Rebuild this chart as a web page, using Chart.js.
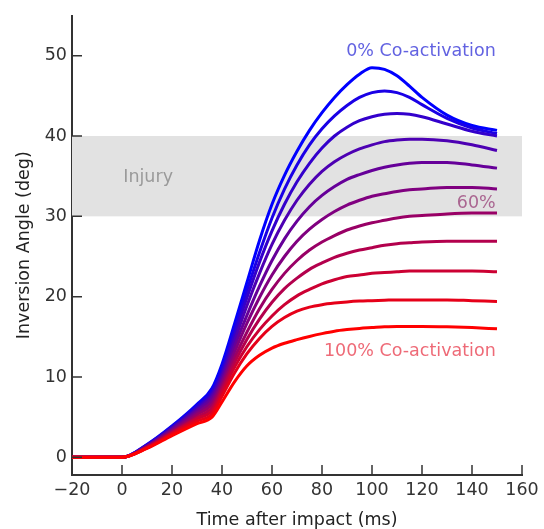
<!DOCTYPE html>
<html>
<head>
<meta charset="utf-8">
<script src="https://cdn.jsdelivr.net/npm/chart.js@4.4.1/dist/chart.umd.min.js"></script>
<style>
  html, body { margin: 0; padding: 0; background: #ffffff; }
  #wrap { width: 544px; height: 529px; position: relative; }
</style>
</head>
<body>
<div id="wrap"><canvas id="c" width="544" height="529"></canvas></div>
<script>
// ---- data ----
const timeMs = [-20, 0, 10, 20, 30, 36, 40, 45, 50, 55, 60, 65, 70, 75, 80, 85, 90, 95, 100, 105, 110, 115, 120, 130, 140, 150];

const coact0   = [0, 0, 1.6, 3.9, 6.6, 8.6, 11.6, 16.6, 21.8, 27.0, 31.5, 35.1, 38.1, 40.7, 42.9, 44.8, 46.4, 47.7, 48.5, 48.3, 47.5, 46.2, 44.8, 42.6, 41.3, 40.7];
const coact10  = [0, 0, 1.55, 3.8, 6.4, 8.3, 11.0, 15.9, 20.8, 25.5, 29.8, 33.4, 36.4, 38.9, 40.9, 42.5, 43.8, 44.8, 45.4, 45.6, 45.4, 44.8, 43.9, 42.2, 41.0, 40.3];
const coact20  = [0, 0, 1.5, 3.7, 6.2, 8.0, 10.5, 15.2, 19.9, 24.3, 28.2, 31.5, 34.3, 36.6, 38.5, 40.0, 41.1, 41.9, 42.4, 42.7, 42.8, 42.7, 42.4, 41.5, 40.6, 40.0];
const coact30  = [0, 0, 1.45, 3.6, 6.0, 7.7, 10.1, 14.5, 18.9, 22.9, 26.5, 29.5, 32.0, 34.0, 35.6, 36.8, 37.7, 38.4, 38.9, 39.3, 39.5, 39.6, 39.6, 39.4, 38.9, 38.2];
const coact40  = [0, 0, 1.4, 3.5, 5.8, 7.4, 9.7, 13.8, 17.7, 21.3, 24.5, 27.2, 29.4, 31.2, 32.6, 33.7, 34.6, 35.2, 35.7, 36.1, 36.4, 36.6, 36.7, 36.7, 36.4, 36.0];
const coact50  = [0, 0, 1.35, 3.35, 5.55, 7.0, 9.3, 13.1, 16.7, 19.9, 22.7, 25.0, 26.9, 28.4, 29.6, 30.6, 31.4, 32.0, 32.5, 32.8, 33.1, 33.3, 33.4, 33.6, 33.6, 33.4];
const coact60  = [0, 0, 1.3, 3.2, 5.3, 6.6, 8.9, 12.4, 15.6, 18.5, 20.9, 22.9, 24.5, 25.8, 26.8, 27.6, 28.3, 28.8, 29.2, 29.5, 29.8, 30.0, 30.1, 30.3, 30.4, 30.4];
const coact70  = [0, 0, 1.25, 3.1, 5.0, 6.2, 8.5, 11.8, 14.7, 17.2, 19.3, 21.0, 22.3, 23.4, 24.2, 24.9, 25.4, 25.8, 26.1, 26.4, 26.6, 26.7, 26.8, 26.9, 26.9, 26.9];
const coact80  = [0, 0, 1.2, 3.0, 4.8, 5.8, 8.1, 11.2, 13.8, 15.9, 17.6, 19.0, 20.1, 20.9, 21.6, 22.1, 22.5, 22.7, 22.9, 23.0, 23.1, 23.2, 23.2, 23.2, 23.2, 23.1];
const coact90  = [0, 0, 1.15, 2.85, 4.5, 5.4, 7.6, 10.5, 12.9, 14.8, 16.3, 17.4, 18.2, 18.7, 19.0, 19.2, 19.35, 19.45, 19.5, 19.55, 19.6, 19.6, 19.6, 19.6, 19.5, 19.4];
const coact100 = [0, 0, 1.1, 2.7, 4.2, 5.0, 6.9, 9.4, 11.4, 12.7, 13.6, 14.2, 14.65, 15.05, 15.4, 15.7, 15.9, 16.05, 16.15, 16.25, 16.3, 16.3, 16.3, 16.25, 16.15, 16.0];

const seriesNames = ['0%', '10%', '20%', '30%', '40%', '50%', '60%', '70%', '80%', '90%', '100%'];
const seriesValues = [coact0, coact10, coact20, coact30, coact40, coact50, coact60, coact70, coact80, coact90, coact100];

const xTicks = [-20, 0, 20, 40, 60, 80, 100, 120, 140, 160];
const yTicks = [0, 10, 20, 30, 40, 50];
const injuryBand = [30, 40];

// text annotations (data coordinates)
const notes = [
  { text: '0% Co-activation',   x: 149.5, y: 50.0, align: 'right', color: 'rgba(70,70,220,0.85)' },
  { text: '60%',                x: 149.5, y: 31.0, align: 'right', color: 'rgba(160,80,130,0.85)' },
  { text: '100% Co-activation', x: 149.5, y: 12.6, align: 'right', color: 'rgba(235,80,95,0.85)' },
  { text: 'Injury',             x: 0.5,   y: 34.3, align: 'left',  color: '#9a9a9a' }
];

// ---- styling ----
const FONT = 'DejaVu Sans';
const FS = 17.5;
const AXIS = '#333333';

function mixColor(i, n) {
  const t = i / (n - 1);
  return `rgb(${Math.round(255 * t)},0,${Math.round(255 * (1 - t))})`;
}

const datasets = seriesValues.map((vals, i) => ({
  label: seriesNames[i],
  data: timeMs.map((t, k) => ({ x: t, y: vals[k] })),
  borderColor: mixColor(i, seriesValues.length),
  borderWidth: 3,
  pointRadius: 0,
  fill: false,
  cubicInterpolationMode: 'monotone',
  order: seriesValues.length - 1 - i
}));

const bandPlugin = {
  id: 'band',
  beforeDatasetsDraw(chart) {
    const { ctx, scales: { x, y } } = chart;
    const x0 = x.getPixelForValue(x.min), x1 = x.getPixelForValue(x.max);
    const y0 = y.getPixelForValue(injuryBand[1]), y1 = y.getPixelForValue(injuryBand[0]);
    ctx.save();
    ctx.fillStyle = '#e2e2e2';
    ctx.fillRect(x0, y0, x1 - x0, y1 - y0);
    ctx.restore();
  }
};

const decoPlugin = {
  id: 'deco',
  afterDatasetsDraw(chart) {
    const { ctx, scales: { x, y }, chartArea } = chart;
    ctx.save();
    // annotations
    ctx.font = `${FS}px "${FONT}"`;
    ctx.textBaseline = 'alphabetic';
    notes.forEach(n => {
      ctx.fillStyle = n.color;
      ctx.textAlign = n.align;
      ctx.fillText(n.text, x.getPixelForValue(n.x), y.getPixelForValue(n.y));
    });
    // inward ticks
    ctx.strokeStyle = AXIS;
    ctx.lineWidth = 1.5;
    ctx.beginPath();
    x.ticks.forEach(t => {
      const px = x.getPixelForValue(t.value);
      ctx.moveTo(px, chartArea.bottom);
      ctx.lineTo(px, chartArea.bottom - 10);
    });
    y.ticks.forEach(t => {
      const py = y.getPixelForValue(t.value);
      ctx.moveTo(chartArea.left, py);
      ctx.lineTo(chartArea.left + 10, py);
    });
    ctx.stroke();
    ctx.restore();
  }
};

new Chart(document.getElementById('c'), {
  type: 'line',
  data: { datasets },
  plugins: [bandPlugin, decoPlugin],
  options: {
    responsive: false,
    animation: false,
    devicePixelRatio: 1,
    layout: { padding: { top: 13, right: 22, left: 0, bottom: 0 } },
    plugins: { legend: { display: false }, tooltip: { enabled: false } },
    scales: {
      x: {
        type: 'linear',
        min: -20, max: 160,
        afterBuildTicks: s => { s.ticks = xTicks.map(v => ({ value: v })); },
        afterFit: s => { s.height = 54; },
        grid: { display: false, drawTicks: false },
        border: { display: true, color: AXIS, width: 2 },
        ticks: { color: AXIS, font: { family: FONT, size: FS }, padding: 5, maxRotation: 0,
                 callback: v => (v < 0 ? '\u2212' + Math.abs(v) : String(v)) },
        title: { display: true, text: 'Time after impact (ms)', color: '#222',
                 font: { family: FONT, size: FS }, padding: { top: 0, bottom: -2 } }
      },
      y: {
        type: 'linear',
        min: -2.2, max: 55,
        afterBuildTicks: s => { s.ticks = yTicks.map(v => ({ value: v })); },
        afterFit: s => { s.width = 72; },
        grid: { display: false, drawTicks: false },
        border: { display: true, color: AXIS, width: 2 },
        ticks: { color: AXIS, font: { family: FONT, size: FS }, padding: 5,
                 callback: v => String(v) },
        title: { display: true, text: 'Inversion Angle (deg)', color: '#222',
                 font: { family: FONT, size: FS }, padding: { top: 14, bottom: 0 } }
      }
    }
  }
});
</script>
</body>
</html>
